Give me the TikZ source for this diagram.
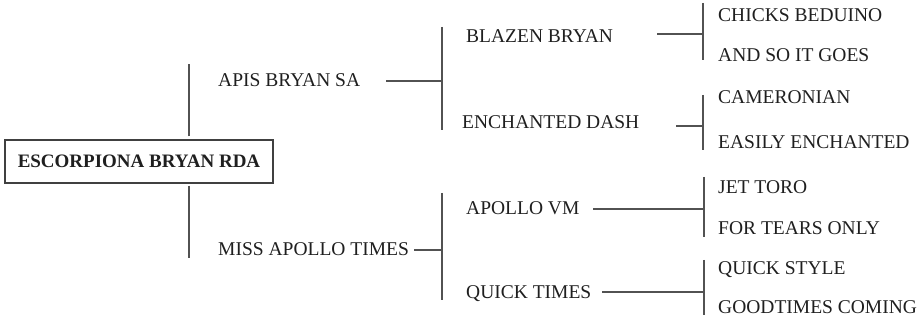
\documentclass[tikz,border=0pt]{standalone}
\usepackage{fontspec}
\setmainfont{Liberation Serif}
\begin{document}
\begin{tikzpicture}[x=1pt,y=-1pt,
 lbl/.style={anchor=west,inner sep=0pt,font=\fontsize{19.5}{21}\selectfont,text height=13pt,text depth=0pt,text=black!88},
 ln/.style={line width=1.2pt,draw=black!68}]
\useasboundingbox (0,0) rectangle (922,323);
\node[draw=black!75,line width=1.2pt,minimum width=268pt,minimum height=43pt,inner sep=0pt,
  font=\fontsize{19.0}{20}\selectfont\bfseries,text=black!88,text height=12.7pt,text depth=0pt] (root) at (139,161.5) {ESCORPIONA BRYAN RDA};
% level 1
\node[lbl] (apis) at (218,80) {APIS BRYAN SA};
\node[lbl] (miss) at (218,249) {MISS APOLLO TIMES};
% level 2
\node[lbl] (blazen) at (466,36) {BLAZEN BRYAN};
\node[lbl] (ench) at (462,122) {ENCHANTED DASH};
\node[lbl] (apollo) at (466,208) {APOLLO VM};
\node[lbl] (quick) at (466,292) {QUICK TIMES};
% level 3
\node[lbl] (chicks) at (718,15) {CHICKS BEDUINO};
\node[lbl] (andso) at (718,55) {AND SO IT GOES};
\node[lbl] (camer) at (718,97) {CAMERONIAN};
\node[lbl] (easily) at (718,142) {EASILY ENCHANTED};
\node[lbl] (jet) at (718,187) {JET TORO};
\node[lbl] (tears) at (718,228) {FOR TEARS ONLY};
\node[lbl] (qstyle) at (718,268) {QUICK STYLE};
\node[lbl] (goodt) at (718,307) {GOODTIMES COMING};
% root branches
\coordinate (rt) at (189,64);
\coordinate (rb) at (189,258);
\draw[ln] ([yshift=3pt]root.north -| rt) -- (rt);
\draw[ln] ([yshift=-2pt]root.south -| rb) -- (rb);
% bracket apis
\coordinate (b1t) at (442,27); \coordinate (b1b) at (442,130);
\draw[ln] (b1t) -- (b1b);
\draw[ln] ([shift={(168pt,-1pt)}]apis.west) -- ([yshift=-1pt]apis.west -| b1t);
% bracket miss
\coordinate (b2t) at (442,193); \coordinate (b2b) at (442,300);
\draw[ln] (b2t) -- (b2b);
\draw[ln] ([shift={(5pt,-1pt)}]miss.east) -- ([yshift=-1pt]miss.east -| b2t);
% bracket blazen
\coordinate (b3t) at (703,3); \coordinate (b3b) at (703,60);
\draw[ln] (b3t) -- (b3b);
\draw[ln] ([shift={(191pt,2pt)}]blazen.west) -- ([yshift=2pt]blazen.west -| b3t);
% bracket ench
\coordinate (b4t) at (703,95); \coordinate (b4b) at (703,150);
\draw[ln] (b4t) -- (b4b);
\draw[ln] ([shift={(214pt,-4pt)}]ench.west) -- ([yshift=-4pt]ench.west -| b4t);
% bracket apollo
\coordinate (b5t) at (704,177); \coordinate (b5b) at (704,237);
\draw[ln] (b5t) -- (b5b);
\draw[ln] ([shift={(127pt,-1pt)}]apollo.west) -- ([yshift=-1pt]apollo.west -| b5t);
% bracket quick
\coordinate (b6t) at (704,260); \coordinate (b6b) at (704,315);
\draw[ln] (b6t) -- (b6b);
\draw[ln] ([xshift=136pt]quick.west) -- (quick.west -| b6t);
\end{tikzpicture}
\end{document}
